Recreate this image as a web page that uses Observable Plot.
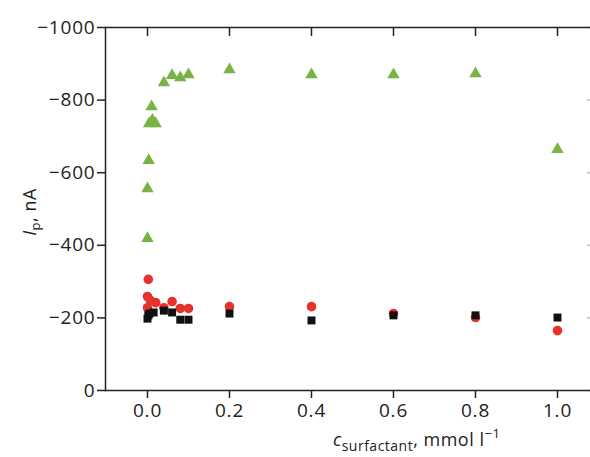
<!DOCTYPE html>
<html>
<head>
<meta charset="utf-8">
<script src="https://cdn.jsdelivr.net/npm/d3@7"></script>
<script src="https://cdn.jsdelivr.net/npm/@observablehq/plot@0.6"></script>
<style>
  html, body { margin: 0; padding: 0; background: #fff; }
</style>
</head>
<body>
<div id="chart"></div>
<script>
// Green triangles
const triX = [0, 0, 0.003, 0.004, 0.012, 0.02, 0.01, 0.04, 0.06, 0.08, 0.1, 0.2, 0.4, 0.6, 0.8, 1.0];
const triY = [-419, -556, -634, -735, -745, -735, -782, -848, -868, -862, -870, -884, -870, -870, -873, -664];
// Red circles
const circX = [0, 0.002, 0.007, 0.02, 0, 0.04, 0.06, 0.08, 0.1, 0.2, 0.4, 0.6, 0.8, 1.0];
const circY = [-259, -306, -248, -242, -228, -228, -245, -226, -226, -231, -231, -212, -201, -165];
// Black squares
const sqX = [0, 0.002, 0.005, 0.015, 0.04, 0.06, 0.08, 0.1, 0.2, 0.4, 0.6, 0.8, 1.0];
const sqY = [-198, -207, -212, -215, -220, -215, -195, -195, -212, -193, -207, -207, -201];

const xTicks = [0, 0.2, 0.4, 0.6, 0.8, 1.0];
const yTicks = [0, -200, -400, -600, -800, -1000];

const tri = triX.map((x, i) => ({x, y: triY[i]}));
const circ = circX.map((x, i) => ({x, y: circY[i]}));
const sq = sqX.map((x, i) => ({x, y: sqY[i]}));

const fmtY = d => d === 0 ? "0" : "\u2212" + Math.abs(d);

const chart = Plot.plot({
  width: 590,
  height: 457,
  marginLeft: 105,
  marginRight: 0,
  marginTop: 27,
  marginBottom: 67,
  style: {fontFamily: "Open Sans", fontSize: "19px", color: "#222", background: "#fff", letterSpacing: "0.8px"},
  x: {domain: [-0.1024, 1.0805]},
  y: {domain: [0, -1000]},
  marks: [
    Plot.axisX({ticks: xTicks, tickFormat: d => d.toFixed(1), tickSize: 8, tickPadding: 5, label: null, strokeWidth: 1.5, fontSize: 19}),
    Plot.axisX({anchor: "top", ticks: xTicks, tickFormat: () => "", tickSize: -8, label: null, strokeWidth: 1.5}),
    Plot.axisY({ticks: yTicks, tickFormat: fmtY, tickSize: 8, tickPadding: 2, label: null, strokeWidth: 1.5, fontSize: 19}),
    Plot.axisY({anchor: "right", ticks: yTicks, tickFormat: () => "", tickSize: -4, label: null, stroke: "#bbb", strokeWidth: 1.5}),
    Plot.frame({anchor: "top", stroke: "#222", strokeWidth: 1.5}),
    Plot.frame({anchor: "left", stroke: "#222", strokeWidth: 1.5}),
    Plot.frame({anchor: "bottom", stroke: "#222", strokeWidth: 1.5}),
    Plot.dot(tri, {x: "x", y: "y", symbol: "triangle", r: 4.6, fill: "#78b443", stroke: "none"}),
    Plot.dot(circ, {x: "x", y: "y", symbol: "circle", r: 4.8, fill: "#e5322d", stroke: "none"}),
    Plot.dot(sq, {x: "x", y: "y", symbol: "square", r: 4.5, fill: "#111", stroke: "none"})
  ]
});

document.getElementById("chart").appendChild(chart);

const svg = d3.select(chart);
// y-axis label
const yl = svg.append("text")
  .attr("transform", "translate(36,212) rotate(-90)")
  .attr("text-anchor", "middle")
  .attr("font-family", "Open Sans")
  .attr("font-size", 18)
  .attr("letter-spacing", "0.5px")
  .attr("fill", "#222");
yl.append("tspan").attr("font-style", "italic").text("I");
yl.append("tspan").attr("font-size", 13).attr("dy", 4).text("p");
yl.append("tspan").attr("dy", -4).text(", nA");

// x-axis label
const xl = svg.append("text")
  .attr("x", 333)
  .attr("y", 446)
  .attr("text-anchor", "start")
  .attr("font-family", "Open Sans")
  .attr("font-size", 18)
  .attr("letter-spacing", "0.5px")
  .attr("fill", "#222");
xl.append("tspan").attr("font-style", "italic").text("c");
xl.append("tspan").attr("font-size", 14).attr("dy", 5).text("surfactant");
xl.append("tspan").attr("dy", -5).text(", mmol l");
xl.append("tspan").attr("font-size", 13).attr("dy", -8).text("\u22121");
</script>
</body>
</html>
